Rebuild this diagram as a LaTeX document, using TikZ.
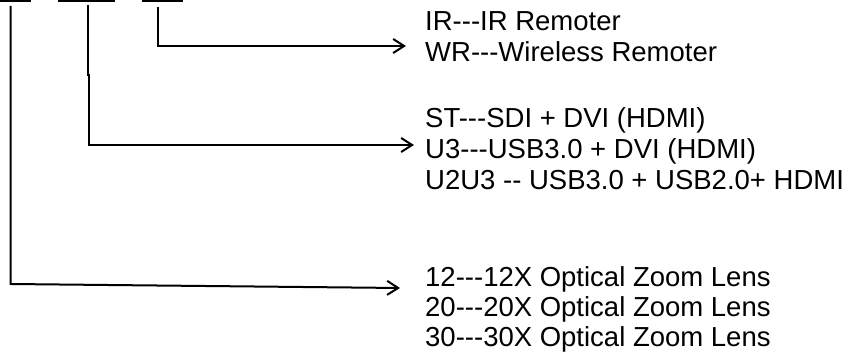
\documentclass[tikz,border=0pt]{standalone}
\usepackage{fontspec}
\setmainfont[Ligatures=TeXOff]{Liberation Sans}
\usetikzlibrary{arrows.meta}
\begin{document}
\begin{tikzpicture}[x=1pt,y=-1pt,
  wire/.style={line width=2pt},
  arr/.style={wire,-{Straight Barb[length=11pt,width=14pt,line width=2pt]}},
  bar/.style={line width=4pt},
  lbl/.style={anchor=base west,inner sep=0pt,font=\fontsize{27.5}{30}\selectfont}]
\useasboundingbox (0,0) rectangle (849,352);
% top bars
\draw[bar] (0,0) -- (31,0);
\draw[bar] (58,0) -- (115,0);
\draw[bar] (142,0) -- (183,0);
% labels
\node[lbl] (ir) at (425,31) {IR---IR Remoter};
\node[lbl] (wr) at (425,62) {WR---Wireless Remoter};
\node[lbl] (st) at (425,128) {ST---SDI + DVI (HDMI)};
\node[lbl] (u3) at (425,159) {U3---USB3.0 + DVI (HDMI)};
\node[lbl] (u2u3) at (425,190) {U2U3 -- USB3.0 + USB2.0+ HDMI};
\node[lbl] (z12) at (425,287) {12---12X Optical Zoom Lens};
\node[lbl] (z20) at (425,317) {20---20X Optical Zoom Lens};
\node[lbl] (z30) at (425,347) {30---30X Optical Zoom Lens};
% connector coordinates
\coordinate (a1) at (10.5,6);
\coordinate (a2) at (10.5,284);
\coordinate (a3) at (400,288);
\coordinate (b1) at (88,5);
\coordinate (b2) at (88,75);
\coordinate (b3) at (89,75);
\coordinate (b4) at (89,145);
\coordinate (b5) at (414,145);
\coordinate (c1) at (158,7);
\coordinate (c2) at (158,46);
\coordinate (c3) at (406,46);
\draw[arr] (c1) -- (c2) -- (c3);
\draw[arr] (b1) -- (b2) -- (b3) -- (b4) -- (b5);
\draw[arr] (a1) -- (a2) -- (a3);
\end{tikzpicture}
\end{document}
